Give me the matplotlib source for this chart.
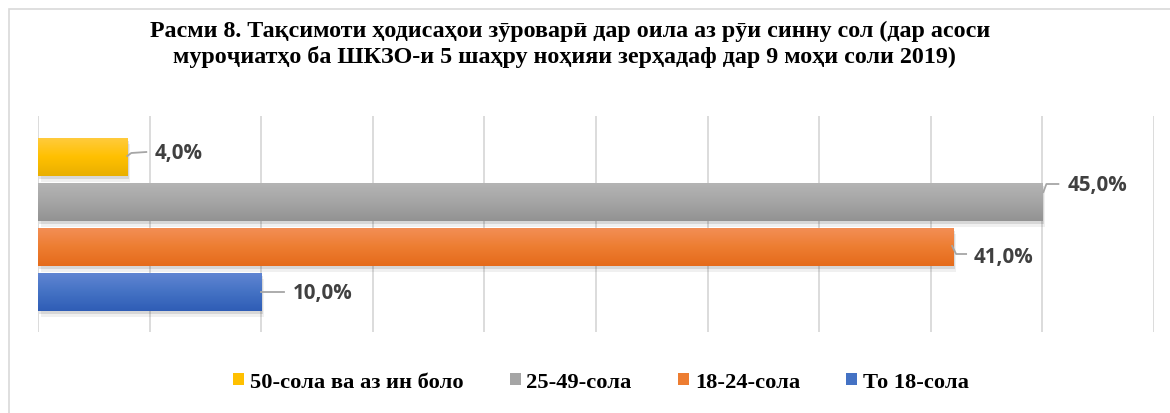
import numpy as np
import matplotlib
matplotlib.use('Agg')
import matplotlib.pyplot as plt
import matplotlib.patheffects as pe
from matplotlib.colors import LinearSegmentedColormap
from matplotlib.patches import Patch, Rectangle
from matplotlib.lines import Line2D
from matplotlib.transforms import IdentityTransform

# ── data ──────────────────────────────────────────────
series = ['50-сола ва аз ин боло', '25-49-сола', '18-24-сола', 'То 18-сола']
values = [4.0, 45.0, 41.0, 10.0]

title1 = 'Расми 8. Тақсимоти ҳодисаҳои зӯроварӣ дар оила аз рӯи синну сол (дар асоси'
title2 = 'муроҷиатҳо ба ШКЗО-и 5 шаҳру ноҳияи зерҳадаф дар 9 моҳи соли 2019)'

# ── style ─────────────────────────────────────────────
base = ['#FFC000', '#A5A5A5', '#ED7D31', '#4472C4']
tops = ['#FFCB3C', '#B4B4B4', '#F38E55', '#6085D2']
bots = ['#E9AF00', '#929292', '#E56B1B', '#2F5DB6']
# leader line path + label offset, in pixels from bar end (y up)
leaders = [
    ([(0, 1), (4, 4), (19, 5)], (27, 4)),
    ([(1, 10), (4, 18), (16, 18)], (25, 17)),
    ([(-1, 1), (3, -7), (13, -7)], (21, -9)),
    ([(0, 0), (23, 0)], (32, 0)),
]
SERIF = ['Liberation Serif', 'DejaVu Serif']
W, H = 1170, 414

fig = plt.figure(figsize=(W / 100, H / 100), dpi=100)
fig.patch.set_facecolor('white')

# chart border (top / left visible)
fig.add_artist(Rectangle((9 / W, -0.05), 1.1, 1.05 - 10 / H,
                         transform=fig.transFigure, fill=False,
                         edgecolor='#D9D9D9', lw=1.2))

ax = fig.add_axes([38 / W, 1 - 333 / H, (1154 - 38) / W, (333 - 117) / H])
ypos = np.arange(len(series))[::-1]
bh = 38 / 45

bars = ax.barh(ypos, values, height=bh, color=base, edgecolor='none', zorder=2)
grad = np.linspace(0, 1, 100).reshape(-1, 1)
for i, b in enumerate(bars):
    b.set_path_effects([pe.SimplePatchShadow(offset=(2, -4), alpha=0.06, shadow_rgbFace='k'),
                        pe.SimplePatchShadow(offset=(1, -2), alpha=0.10, shadow_rgbFace='k'),
                        pe.Normal()])
    cm = LinearSegmentedColormap.from_list('g%d' % i, [tops[i], base[i], bots[i]])
    im = ax.imshow(grad, extent=[0, values[i], ypos[i] - bh / 2, ypos[i] + bh / 2],
                   aspect='auto', cmap=cm, origin='upper', zorder=3)
    im.set_clip_path(b)

ax.set_xlim(0, 50)
ax.set_ylim(-40 / 45, 3 + 41 / 45)
ax.set_xticks(np.arange(0, 51, 5))
ax.set_yticks([])
ax.tick_params(axis='x', length=0, labelbottom=False)
ax.grid(axis='x', color='#D9D9D9', lw=1.3, zorder=0)
ax.set_axisbelow(True)
for s in ax.spines.values():
    s.set_visible(False)

# data labels with leader lines
for i, v in enumerate(values):
    x0, y0 = ax.transData.transform((v, ypos[i]))
    path, (lx, ly) = leaders[i]
    fig.add_artist(Line2D([x0 + p[0] for p in path], [y0 + p[1] for p in path],
                          transform=IdentityTransform(), color='#A6A6A6', lw=1.3))
    ax.annotate(f'{v:.1f}%'.replace('.', ','), xy=(v, ypos[i]), xytext=(lx, ly),
                textcoords='offset pixels', ha='left', va='center',
                fontsize=14.8, fontweight='bold', color='#404040', family='Open Sans')

# title
fig.text(570 / W, 1 - 31 / H, title1, ha='center', va='center',
         fontsize=17.3, fontweight='bold', family=SERIF)
fig.text(564 / W, 1 - 57 / H, title2, ha='center', va='center',
         fontsize=17.3, fontweight='bold', family=SERIF)

# legend
handles = [Patch(facecolor=c, edgecolor='none') for c in base]
fig.legend(handles, series, loc='center', bbox_to_anchor=(601 / W, 1 - 383 / H),
           ncol=4, frameon=False, handlelength=0.5, handleheight=0.5,
           handletextpad=0.25, columnspacing=2.05,
           prop={'family': SERIF, 'weight': 'bold', 'size': 16.2})

fig.savefig('out.png', dpi=100, facecolor='white')
